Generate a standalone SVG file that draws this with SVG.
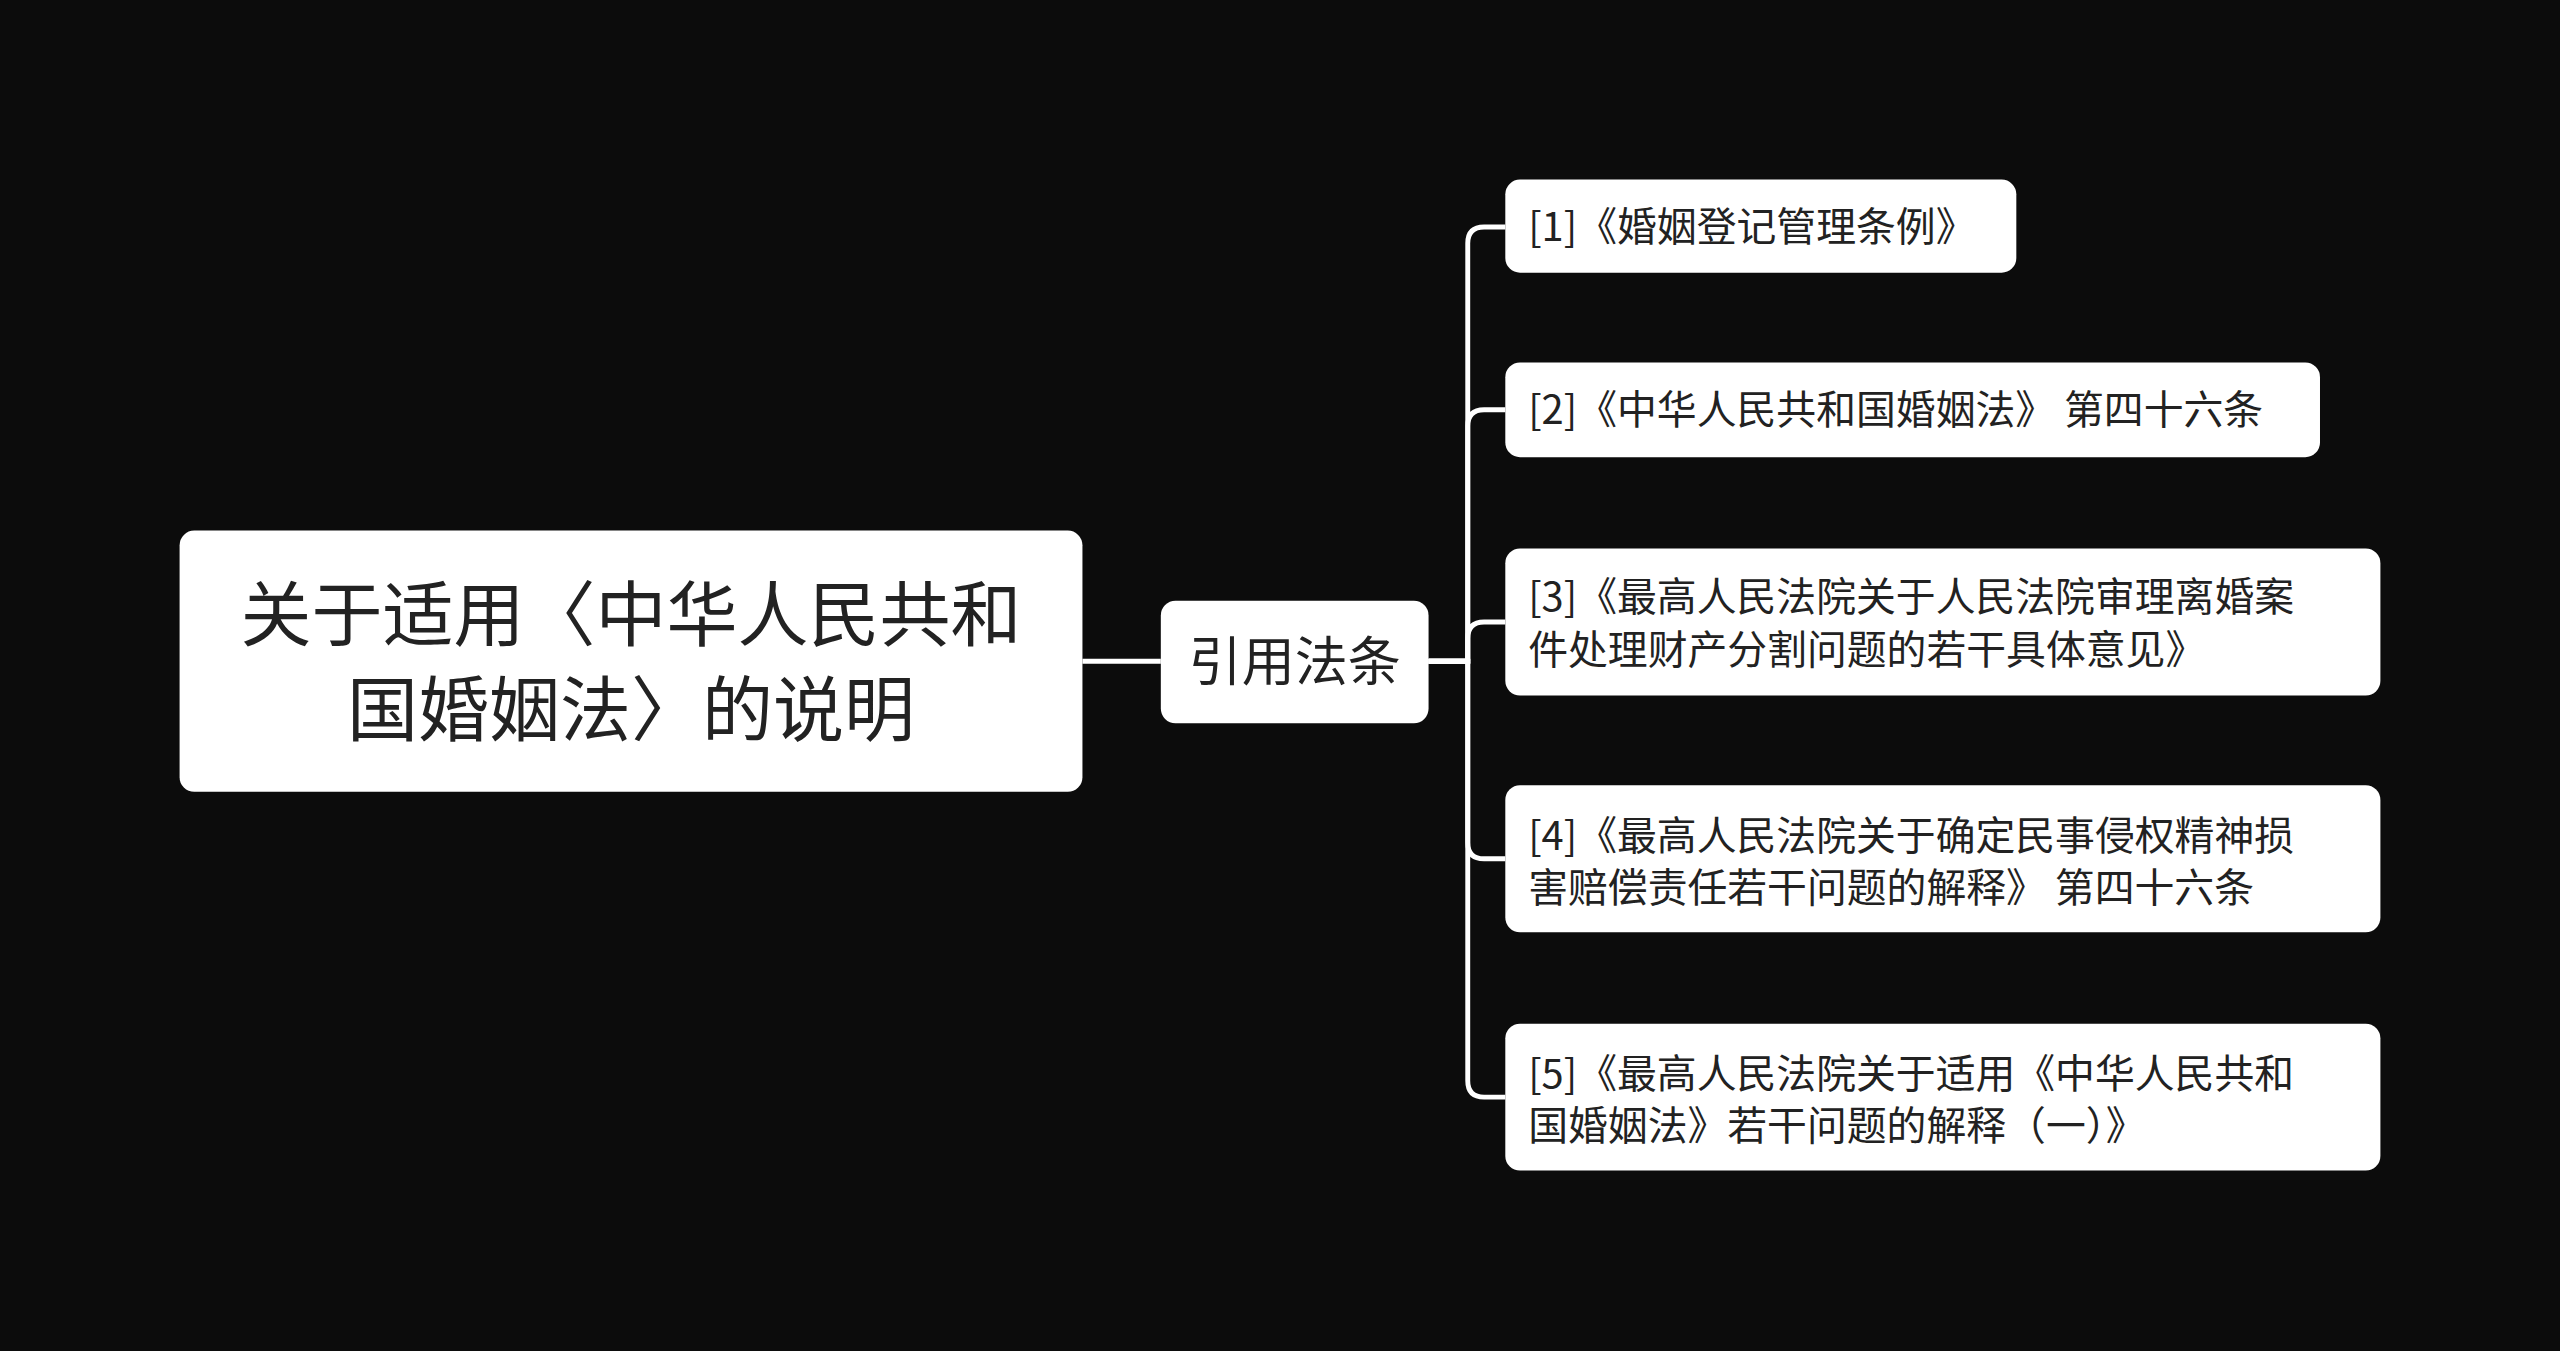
<svg xmlns="http://www.w3.org/2000/svg" width="2560" height="1351" viewBox="0 0 2560 1351">
<style>
.n{fill:#fff}
.t{font-family:"Noto Sans CJK SC","Noto Sans",sans-serif;fill:#222}
.c{fill:none;stroke:#fff;stroke-width:3}
</style>
<rect width="2560" height="1351" fill="#0c0c0c"/>
<g transform="scale(1.63265)">
<g id="connectors">
<path class="c" d="M663 405 H711"/>
<path class="c" d="M875 405 H899 V149 Q899 139 909 139 H922"/>
<path class="c" d="M875 405 H899 V261 Q899 251 909 251 H922"/>
<path class="c" d="M875 405 H899 V391 Q899 381 909 381 H922"/>
<path class="c" d="M875 405 H899 V516 Q899 526 909 526 H922"/>
<path class="c" d="M875 405 H899 V662 Q899 672 909 672 H922"/>
</g>
<g id="root"><rect class="n" x="110" y="325" width="553" height="160" rx="9"/>
<text class="t" font-size="43.5" x="386.5" y="392" text-anchor="middle">关于适用〈中华人民共和</text>
<text class="t" font-size="43.5" x="386.5" y="450" text-anchor="middle">国婚姻法〉的说明</text></g>
<g id="mid"><rect class="n" x="711" y="368" width="164" height="75" rx="9"/>
<text class="t" font-size="32.5" x="793" y="417" text-anchor="middle">引用法条</text></g>
<g id="leaf1"><rect class="n" x="922" y="110" width="313" height="57" rx="9"/>
<text class="t" font-size="24.4" x="936" y="147.5">[1]《婚姻登记管理条例》</text></g>
<g id="leaf2"><rect class="n" x="922" y="222" width="499" height="58" rx="9"/>
<text class="t" font-size="24.4" x="936" y="259.5">[2]《中华人民共和国婚姻法》 第四十六条</text></g>
<g id="leaf3"><rect class="n" x="922" y="336" width="536" height="90" rx="9"/>
<text class="t" font-size="24.4" x="936" y="374.5">[3]《最高人民法院关于人民法院审理离婚案</text>
<text class="t" font-size="24.4" x="936" y="406.5">件处理财产分割问题的若干具体意见》</text></g>
<g id="leaf4"><rect class="n" x="922" y="481" width="536" height="90" rx="9"/>
<text class="t" font-size="24.4" x="936" y="520.5">[4]《最高人民法院关于确定民事侵权精神损</text>
<text class="t" font-size="24.4" x="936" y="552.5">害赔偿责任若干问题的解释》 第四十六条</text></g>
<g id="leaf5"><rect class="n" x="922" y="627" width="536" height="90" rx="9"/>
<text class="t" font-size="24.4" x="936" y="666.5">[5]《最高人民法院关于适用《中华人民共和</text>
<text class="t" font-size="24.4" x="936" y="698.5">国婚姻法》若干问题的解释（一）》</text></g>
</g>
</svg>
